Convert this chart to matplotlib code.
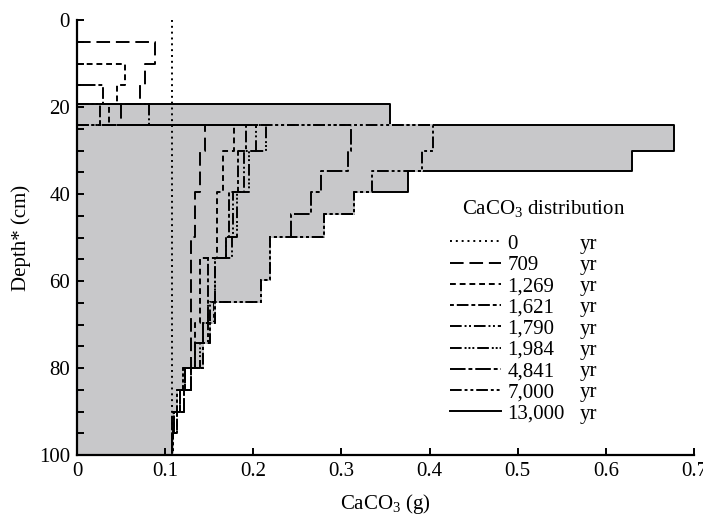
import numpy as np
import matplotlib
matplotlib.use("Agg")
import matplotlib.pyplot as plt
from matplotlib.lines import Line2D

plt.rcParams["font.family"] = ["Liberation Serif", "DejaVu Serif"]
plt.rcParams["mathtext.fontset"] = "custom"
plt.rcParams["mathtext.rm"] = "Liberation Serif"
plt.rcParams["mathtext.it"] = "Liberation Serif:italic"

# layer boundaries (cm) and CaCO3 per layer (g), nan = layer not present yet
depth_edges = [0, 5, 10, 15, 19.3, 24.2, 30, 34.6, 39.6, 44.7, 49.8,
               54.8, 59.8, 64.8, 69.7, 74.2, 80, 85, 90, 95, 100]
nan = np.nan
ca_0 = [0.108] * 20
ca_709 = [nan, .089, .077, .071, .050, .145, .140, .140, .134, .134,
          .129, .129, .129, .129, .129, .129, .129, .117, .108, .108]
ca_1269 = [nan, nan, .055, .045, .036, .178, .166, .166, .159, .159,
           .159, .140, .140, .140, .134, .134, .129, .121, .113, .108]
ca_1621 = [nan, nan, nan, .029, .026, .192, .183, .183, .173, .173,
           .169, .149, .149, .149, .143, .134, .123, .117, .110, .108]
ca_1790 = [nan, nan, nan, nan, .082, .203, .189, .189, .177, .177,
           .176, .156, .156, .151, .143, .134, .129, .121, .110, .108]
ca_1984 = [nan, nan, nan, nan, nan, .214, .195, .195, .181, .181,
           .169, .156, .156, .149, .143, .140, .129, .121, .113, .108]
ca_4841 = [nan, nan, nan, nan, nan, .311, .307, .277, .266, .243,
           .219, .219, .209, .155, .149, .143, .123, .117, .109, .109]
ca_7000 = [nan, nan, nan, nan, nan, .404, .391, .335, .314, .280,
           .219, .219, .209, .157, .151, .143, .120, .113, .109, .109]
ca_13000 = [nan, nan, nan, nan, .355, .677, .630, .375, .314, .280,
            .219, .219, .209, .157, .151, .143, .120, .113, .109, .109]

ages = ["0", "709", "1,269", "1,621", "1,790", "1,984", "4,841", "7,000", "13,000"]
x_ticks = [0, 0.1, 0.2, 0.3, 0.4, 0.5, 0.6, 0.7]
x_tick_labels = ["0", "0.1", "0.2", "0.3", "0.4", "0.5", "0.6", "0.7"]
y_ticks = [0, 20, 40, 60, 80, 100]

gray = "#c8c8ca"
fs = 15


def steps(vals):
    v = np.asarray(vals, float)
    start = int(np.argmax(~np.isnan(v)))
    xs, ys = [], []
    if start > 0:
        xs.append(0)
        ys.append(depth_edges[start])
    for i in range(start, len(v)):
        xs += [v[i], v[i]]
        ys += [depth_edges[i], depth_edges[i + 1]]
    return np.array(xs), np.array(ys)


fig = plt.figure(figsize=(7.03, 5.15), dpi=100)
ax = fig.add_axes([77 / 703, 1 - 455 / 515, 617 / 703, 435 / 515])

lw = 1.4
# 13,000 yr profile with grey fill
xs, ys = steps(ca_13000)
ax.fill(np.r_[xs, 0], np.r_[ys, ys[-1]], color=gray, lw=0, zorder=1)
h13000, = ax.plot(xs, ys, color="k", lw=lw, ls="-", zorder=2)

styles = [
    (ca_0, (0, (1, 2)), None),
    (ca_709, (0, (7, 3)), None),
    (ca_1269, (0, (3, 2)), None),
    (ca_1621, (0, (2, 1.5, 6, 1.5)), None),
    (ca_1790, (0, (6, 1.5, 1, 1.3, 1, 1.5)), None),
    (ca_1984, (0, (6, 1.5, 1, 1, 1, 1, 1, 1.5)), None),
    (ca_4841, (0, (8, 1.5, 2, 1.5)), gray),
    (ca_7000, (0, (6, 1.5, 1.5, 1.5, 1.5, 1.5)), gray),
]
for vals, ls, gc in styles:
    xs, ys = steps(vals)
    z = 3 if gc else 4
    ax.plot(xs, ys, color="k", lw=lw, ls=ls, gapcolor=gc, zorder=z)
# legend handles without grey gaps
leg_handles = [Line2D([], [], color="k", lw=lw, ls=s[1]) for s in styles] + [h13000]

ax.set_xlim(0, 0.7)
ax.set_ylim(100, 0)
ax.set_xticks(x_ticks)
ax.set_xticklabels(x_tick_labels)
ax.set_yticks(y_ticks)
ax.set_yticks(np.arange(0, 101, 5), minor=True)
ax.tick_params(which="both", direction="in", length=5, width=1.4,
               labelsize=fs, pad=5)
for s in ["top", "right"]:
    ax.spines[s].set_visible(False)
for s in ["left", "bottom"]:
    ax.spines[s].set_linewidth(1.6)

ax.set_xlabel("CaCO$_\\mathrm{3}$ (g)", fontsize=fs, labelpad=8)
ax.set_ylabel("Depth* (cm)", fontsize=fs, labelpad=6)

top = (455 - 234) / 435
leg1 = ax.legend(leg_handles, ages, loc="upper left",
                 bbox_to_anchor=((450 - 77) / 617, top), alignment="left",
                 frameon=False, fontsize=fs, handlelength=2.45,
                 handletextpad=0.3, labelspacing=0.08, borderpad=0,
                 borderaxespad=0)
ax.add_artist(leg1)
blank = [Line2D([], [], ls="none") for _ in ages]
ax.legend(blank, ["yr"] * len(ages), loc="upper left",
          bbox_to_anchor=((580 - 77) / 617, top), alignment="left",
          frameon=False, fontsize=fs, handlelength=0, handletextpad=0,
          labelspacing=0.08, borderpad=0, borderaxespad=0)
ax.text((544 - 77) / 617, (455 - 208) / 435, "CaCO$_\\mathrm{3}$ distribution",
        transform=ax.transAxes, ha="center", va="center", fontsize=fs)

fig.savefig("out.png", dpi=100)
